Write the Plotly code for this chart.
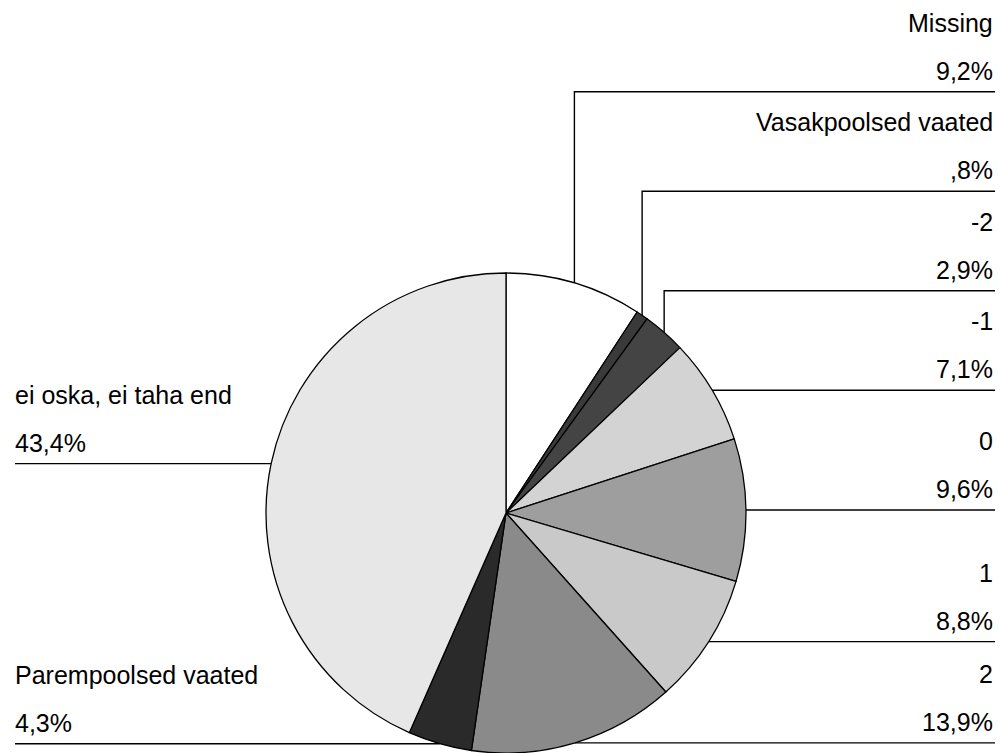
import math
import plotly.graph_objects as go

# ---- data ----
categories = ["Missing", "Vasakpoolsed vaated", "-2", "-1", "0", "1", "2",
              "Parempoolsed vaated", "ei oska, ei taha end"]
percent = [9.2, 0.8, 2.9, 7.1, 9.6, 8.8, 13.9, 4.3, 43.4]
colors = ["#ffffff", "#3a3a3a", "#444444", "#d3d3d3", "#9e9e9e",
          "#c9c9c9", "#8a8a8a", "#2a2a2a", "#e7e7e7"]

# ---- layout constants (pixels) ----
W, H = 1000, 753
CX, CY, R = 506, 513, 240
SLOT = 99.5
RIGHT_X, LEFT_X = 995, 13
LINE_RIGHT_END, LINE_LEFT_END = 995, 15
NAME_OFF, PCT_OFF = 69, 21
FONT = dict(family="Liberation Sans, Arial, sans-serif", size=25, color="#000000")


def px(x):
    return x / W


def py(y):
    return 1 - y / H


def fmt(v):
    s = f"{v:.1f}".replace(".", ",")
    if s.startswith("0,"):
        s = s[1:]
    return s + "%"


fig = go.Figure()
fig.add_trace(go.Pie(
    labels=categories, values=percent, sort=False, direction="clockwise",
    rotation=0, textinfo="none", hoverinfo="label+percent",
    marker=dict(colors=colors, line=dict(color="#000000", width=1.3)),
    domain=dict(x=[px(CX - R), px(CX + R)], y=[py(CY + R), py(CY - R)]),
    showlegend=False,
))

# anchors from the data (mid angle of each slice, clockwise from 12 o'clock)
total = sum(percent)
anchors = []
cum = 0.0
for v in percent:
    a = (cum + v / 2) / total * 2 * math.pi
    cum += v
    anchors.append((a, CX + R * math.sin(a), CY - R * math.cos(a)))

right = [i for i, (a, _, _) in enumerate(anchors) if a < math.pi]
left = [i for i, (a, _, _) in enumerate(anchors) if a >= math.pi]

line_y = {}
prev = 1e9
for i in reversed(right):
    ly = min(anchors[i][2], prev - SLOT)
    line_y[i] = ly
    prev = ly
prev = 1e9
for i in left:
    ly = min(anchors[i][2], prev - SLOT)
    line_y[i] = ly
    prev = ly

shapes = []
annotations = []
for i in right + left:
    a, ax, ay = anchors[i]
    ly = line_y[i]
    is_right = i in right
    end_x = LINE_RIGHT_END if is_right else LINE_LEFT_END
    if ly < ay - 0.5:
        path = f"M {px(ax)},{py(ay)} L {px(ax)},{py(ly)} L {px(end_x)},{py(ly)}"
    else:
        path = f"M {px(ax)},{py(ay)} L {px(end_x)},{py(ay)}"
        ly = ay
    shapes.append(dict(type="path", path=path, xref="paper", yref="paper",
                       line=dict(color="#000000", width=1.4), layer="below"))
    tx = RIGHT_X if is_right else LEFT_X
    xa = "right" if is_right else "left"
    for txt, off in ((categories[i], NAME_OFF), (fmt(percent[i]), PCT_OFF)):
        annotations.append(dict(text=txt, x=px(tx), y=py(ly - off),
                                xref="paper", yref="paper", xanchor=xa,
                                yanchor="middle", showarrow=False, font=FONT))

fig.update_layout(
    width=W, height=H, margin=dict(l=0, r=0, t=0, b=0),
    paper_bgcolor="#ffffff", plot_bgcolor="#ffffff",
    shapes=shapes, annotations=annotations, showlegend=False,
)

fig.write_html("out.html")
